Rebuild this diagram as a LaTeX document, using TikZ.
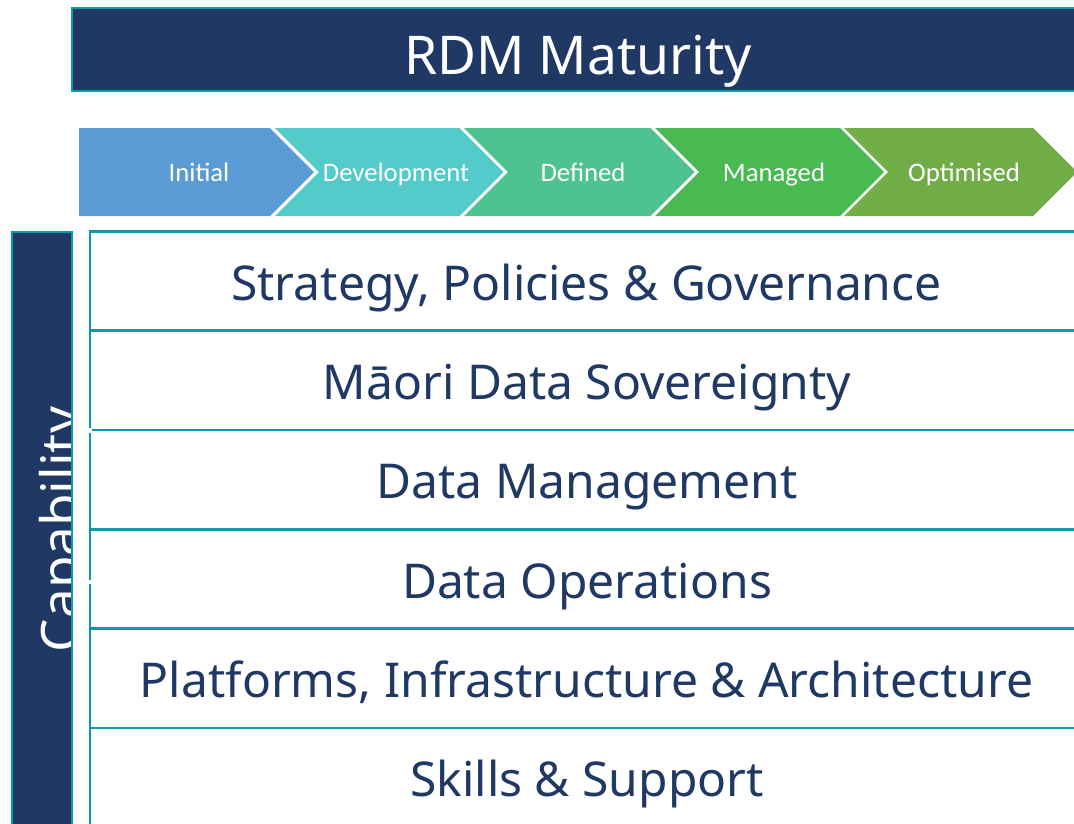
\documentclass[tikz,border=0pt]{standalone}
\usepackage{fontspec}
\setmainfont{Noto Sans}
\newfontfamily\chevfont{Carlito}
\definecolor{navy}{HTML}{1F3864}
\definecolor{tealline}{HTML}{0A9BA8}
\definecolor{cOne}{HTML}{5B9BD5}
\definecolor{cTwo}{HTML}{53CBCB}
\definecolor{cThree}{HTML}{4FC38F}
\definecolor{cFour}{HTML}{48BA51}
\definecolor{cFive}{HTML}{70AD47}
\tikzset{
  x=1pt,y=-1pt,
  banner/.style={fill=navy,draw=tealline,line width=2.4pt},
  rowline/.style={draw=tealline,line width=2.2pt},
  rowtext/.style={text=navy,font=\fontsize{48}{52}\selectfont,inner sep=0pt,anchor=base},
  chevtext/.style={text=white,font=\chevfont\fontsize{26.7}{30}\selectfont,inner sep=0pt,anchor=base},
}
\begin{document}
\begin{tikzpicture}
\useasboundingbox (0,0) rectangle (1074,823);
% title banner
\path[banner] (72,8) rectangle (1080,91);
\node[anchor=base,text=white,inner sep=0pt,font=\fontsize{53.4}{58}\selectfont] (title) at (578,74) {RDM Maturity};
% chevrons
\fill[cOne] (79,128) -- (270,128) -- (314,172) -- (270,216) -- (79,216) -- cycle;
\fill[cTwo] (275,128) -- (459.5,128) -- (503.5,172) -- (459.5,216) -- (275,216) -- (319,172) -- cycle;
\fill[cThree] (464,128) -- (650.5,128) -- (694.5,172) -- (650.5,216) -- (464,216) -- (508,172) -- cycle;
\fill[cFour] (655,128) -- (840,128) -- (884,172) -- (840,216) -- (655,216) -- (699,172) -- cycle;
\fill[cFive] (844,128) -- (1033,128) -- (1077,172) -- (1033,216) -- (844,216) -- (888,172) -- cycle;
\node[chevtext] (initial) at (199,181) {Initial};
\node[chevtext] (development) at (396,181) {Development};
\node[chevtext] (defined) at (583,181) {Defined};
\node[chevtext] (managed) at (774,181) {Managed};
\node[chevtext] (optimised) at (964,181) {Optimised};
% capability column
\fill[navy] (12,232) rectangle (72,830);
\begin{scope}
\clip (12,232) rectangle (72,830);
\node[rotate=90,anchor=base,text=white,inner sep=0pt,font=\fontsize{53}{58}\selectfont] (capability) at (79,529.5) {Capability};
\end{scope}
\draw[tealline,line width=2.4pt] (12,830) -- (12,232) -- (72,232) -- (72,830);
% rows
\draw[rowline,line width=1.8pt] (90.2,230.6) -- (90.2,830);
\draw[rowline] (1080,231.5) -- (89.3,231.5);
\foreach \y in {330.5,430,529.5,628.5,728}{\draw[rowline] (90.2,\y) -- (1080,\y);}
\fill[white] (88,428) rectangle (92,433);
\fill[white] (88,580) rectangle (92,584);
\node[rowtext] (r1) at (586.5,300) {Strategy, Policies \& Governance};
\node[rowtext] (r2) at (587,399) {Māori Data Sovereignty};
\node[rowtext] (r3) at (587,498) {Data Management};
\node[rowtext] (r4) at (587,598) {Data Operations};
\node[rowtext] (r5) at (586.5,697) {Platforms, Infrastructure \& Architecture};
\node[rowtext] (r6) at (587,796) {Skills \& Support};
\end{tikzpicture}
\end{document}
